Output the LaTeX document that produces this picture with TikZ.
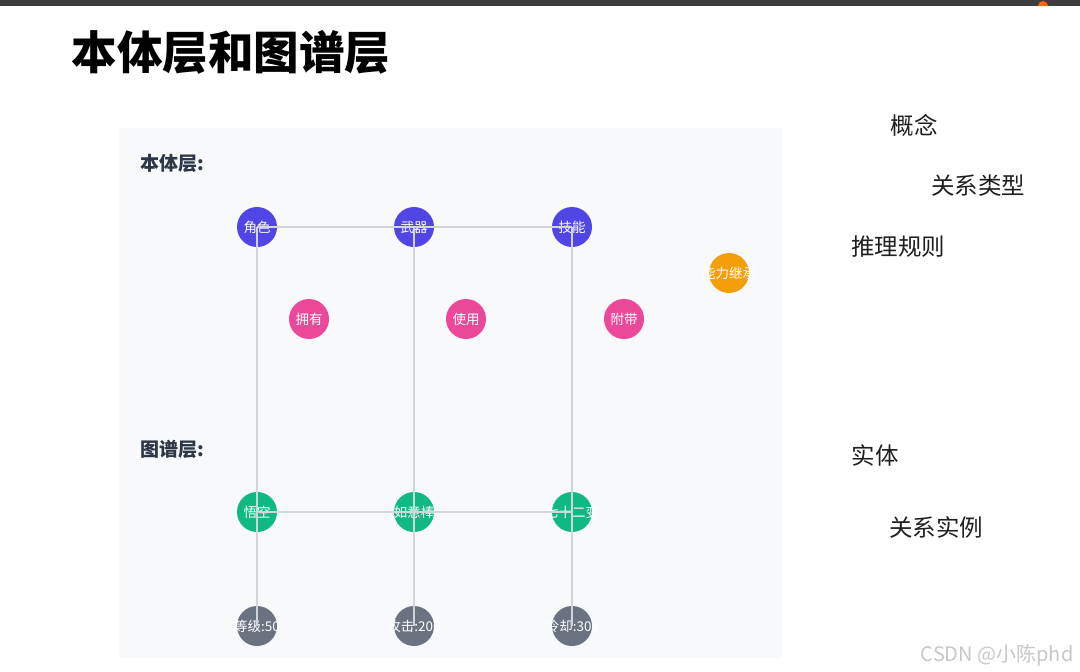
\documentclass[tikz,border=0pt]{standalone}
\usepackage{fontspec}
\setmainfont{Noto Sans CJK SC}
\usetikzlibrary{positioning}
\definecolor{ontoblue}{HTML}{4F46E5}
\definecolor{relpink}{HTML}{EC4899}
\definecolor{ruleorange}{HTML}{F59E0B}
\definecolor{entgreen}{HTML}{10B981}
\definecolor{attrgray}{HTML}{6B7280}
\definecolor{edgegray}{HTML}{D1D5DB}
\definecolor{panelbg}{HTML}{F8F9FB}
\definecolor{topbar}{HTML}{3C3C3C}
\definecolor{labeltext}{HTML}{2D3748}
\definecolor{marktext}{HTML}{C8C8C8}

\begin{document}
\begin{tikzpicture}[
  x=1pt, y=-1pt,
  dot/.style={circle, fill=#1, minimum size=40pt, inner sep=0pt,
    text=white, font=\fontsize{13.5}{14}\selectfont},
  link/.style={draw=edgegray, line width=2pt},
  layer/.style={anchor=west, text=labeltext, font=\fontsize{19}{21}\selectfont\bfseries},
  note/.style={text=black!88, font=\fontsize{23.5}{25}\selectfont}
]
  \useasboundingbox (0,0) rectangle (1080,672);
  \fill[white] (0,0) rectangle (1080,672);
  \fill[topbar] (0,0) rectangle (1080,6);
  \fill[orange!80!red] (1038,6) arc (180:360:5) -- cycle;

  % Title
  \node[anchor=west, font=\fontsize{45.5}{47}\selectfont\bfseries] (title) at (68,52)
    {本体层和图谱层};

  % Panel
  \fill[panelbg] (119,128) rectangle (782,658);
  \node[layer] (onto) at (137,163) {本体层:};
  \node[layer] (graph) at (137,449) {图谱层:};

  % Concepts
  \foreach \i/\w/\x in {1/角色/257, 2/武器/414, 3/技能/572} {
    \node[dot=ontoblue] (c\i) at (\x,227) {\makebox[0pt]{\w}};
  }
  % Relation types
  \foreach \i/\w/\x in {1/拥有/309, 2/使用/466, 3/附带/624} {
    \node[dot=relpink] (r\i) at (\x,319) {\makebox[0pt]{\w}};
  }
  % Rule
  \node[dot=ruleorange] (rule) at (729,273) {\makebox[0pt]{能力继承}};

  % Entities
  \foreach \i/\w/\x in {1/悟空/257, 2/如意棒/414, 3/七十二变/572} {
    \node[dot=entgreen] (e\i) at (\x,512) {\makebox[0pt]{\w}};
  }
  % Attributes
  \foreach \i/\w/\x in {1/等级:50/257, 2/攻击:200/414, 3/冷却:30s/572} {
    \node[dot=attrgray] (a\i) at (\x,626) {\makebox[0pt]{\w}};
  }

  % Links
  \draw[link] (c1.center) -- (c2.center) -- (c3.center);
  \draw[link] (e1.center) -- (e2.center) -- (e3.center);
  \foreach \i in {1,2,3} {
    \draw[link] (c\i.center) -- (e\i.center);
    \draw[link] (e\i.center) -- (a\i.center);
  }

  % Legend words
  \node[note] (n1) at (914,125) {概念};
  \node[note] (n2) at (978,186) {关系类型};
  \node[note] (n3) at (898,247) {推理规则};
  \node[note] (n4) at (875,455) {实体};
  \node[note] (n5) at (936,527) {关系实例};

  \node[anchor=east, text=marktext, font=\fontsize{20}{22}\selectfont] (mark) at (1077,655)
    {CSDN @小陈phd};
\end{tikzpicture}
\end{document}
